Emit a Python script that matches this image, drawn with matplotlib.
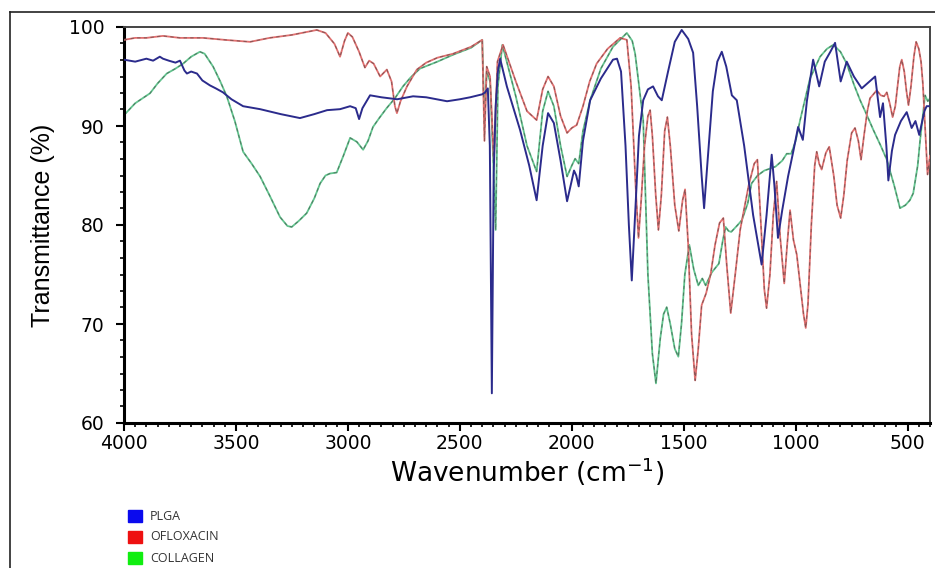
import matplotlib
matplotlib.use("Agg")
import numpy as np
import matplotlib.pyplot as plt
from matplotlib.ticker import MultipleLocator, AutoMinorLocator
from matplotlib.lines import Line2D
from matplotlib.patches import Rectangle

# --- data (wavenumber cm-1, transmittance %) ---
plga_wn = [4000, 3950, 3900, 3870, 3840, 3826, 3800, 3770, 3750, 3730, 3719, 3700, 3674, 3650,
           3616, 3590, 3558, 3520, 3468, 3392, 3300, 3214, 3150, 3093, 3035, 2990, 2965, 2950,
           2935, 2901, 2850, 2780, 2709, 2650, 2557, 2500, 2454, 2400, 2387, 2375, 2366, 2357,
           2349, 2340, 2330, 2320, 2290, 2231, 2190, 2157, 2130, 2106, 2080, 2050, 2021, 2000,
           1990, 1980, 1969, 1950, 1918, 1870, 1816, 1798, 1780, 1760, 1745, 1732, 1715, 1700,
           1681, 1660, 1637, 1615, 1598, 1570, 1540, 1509, 1480, 1458, 1440, 1420, 1409, 1395,
           1370, 1350, 1330, 1310, 1285, 1263, 1230, 1190, 1152, 1130, 1107, 1095, 1079, 1060,
           1034, 1010, 989, 968, 950, 922, 895, 870, 845, 824, 799, 772, 740, 705, 670, 645,
           623, 610, 595, 586, 570, 556, 530, 504, 482, 465, 448, 425, 415, 400]
plga_t = [96.7, 96.5, 96.8, 96.6, 97.0, 96.8, 96.6, 96.4, 96.6, 95.6, 95.3, 95.5, 95.3, 94.6,
          94.1, 93.8, 93.4, 92.7, 92.0, 91.7, 91.2, 90.8, 91.2, 91.6, 91.7, 92.0, 91.8, 90.7,
          91.8, 93.1, 92.9, 92.7, 93.0, 92.9, 92.5, 92.7, 92.9, 93.2, 93.4, 93.8, 88.0, 63.0,
          85.0, 92.0, 95.5, 96.8, 94.0, 89.6, 86.0, 82.5, 88.0, 91.3, 90.3, 86.5, 82.4, 84.5,
          85.5, 85.0, 83.9, 88.5, 92.6, 94.8, 96.7, 96.8, 95.5, 88.0, 80.0, 74.4, 82.0, 89.0,
          92.6, 93.7, 94.0, 93.0, 92.6, 95.5, 98.5, 99.7, 98.8, 97.4, 92.0, 85.0, 81.7, 86.0,
          93.5, 96.5, 97.5, 96.0, 93.1, 92.6, 88.0, 81.0, 76.0, 81.0, 87.1, 84.0, 78.7, 81.5,
          84.9, 87.5, 89.9, 88.6, 92.5, 96.7, 94.0, 96.5, 97.5, 98.4, 94.5, 96.5, 95.0, 93.8,
          94.5, 95.0, 90.9, 92.3, 88.0, 84.5, 87.5, 89.1, 90.5, 91.4, 89.8, 90.5, 89.1, 91.5,
          92.0, 92.0]

oflox_wn = [4000, 3950, 3900, 3826, 3750, 3647, 3550, 3437, 3350, 3250, 3139, 3100, 3060, 3035,
            3015, 3000, 2980, 2950, 2924, 2905, 2885, 2856, 2826, 2805, 2790, 2781, 2765, 2736,
            2692, 2650, 2600, 2530, 2450, 2400, 2390, 2380, 2365, 2348, 2332, 2307, 2250, 2200,
            2157, 2130, 2106, 2080, 2050, 2021, 2000, 1978, 1950, 1920, 1889, 1840, 1784, 1754,
            1735, 1715, 1702, 1690, 1675, 1660, 1650, 1640, 1625, 1613, 1600, 1585, 1573, 1560,
            1540, 1522, 1505, 1494, 1480, 1465, 1449, 1435, 1420, 1400, 1380, 1360, 1340, 1323,
            1308, 1290, 1270, 1248, 1210, 1185, 1171, 1155, 1140, 1130, 1115, 1100, 1085, 1070,
            1051, 1038, 1025, 1010, 995, 980, 965, 955, 945, 930, 915, 906, 895, 884, 865, 850,
            830, 815, 799, 785, 770, 750, 735, 720, 708, 695, 680, 668, 638, 620, 605, 593,
            580, 567, 555, 545, 535, 526, 515, 505, 496, 485, 472, 462, 450, 440, 432, 422,
            411, 400]
oflox_t = [98.7, 98.9, 98.9, 99.1, 98.9, 98.9, 98.7, 98.5, 98.9, 99.2, 99.7, 99.4, 98.3, 97.0,
           98.6, 99.4, 99.0, 97.5, 95.9, 96.6, 96.3, 95.0, 95.7, 94.5, 92.0, 91.3, 92.5, 94.0,
           95.7, 96.4, 96.9, 97.3, 98.0, 98.7, 88.5, 96.0, 95.0, 86.5, 96.5, 98.2, 94.5, 91.5,
           90.6, 93.7, 95.0, 94.0, 91.0, 89.3, 89.8, 90.1, 92.0, 94.5, 96.3, 97.8, 98.9, 98.7,
           94.0, 84.0, 78.7, 82.5, 88.0, 91.0, 91.6, 89.0, 83.0, 79.5, 83.0, 89.5, 90.9, 88.0,
           82.0, 79.4, 82.5, 83.6, 78.0, 69.0, 64.3, 67.5, 71.9, 73.1, 75.0, 78.0, 80.2, 80.7,
           76.0, 71.1, 75.0, 79.5, 84.0, 86.2, 86.6, 80.0, 73.5, 71.6, 75.0, 81.0, 84.4, 79.0,
           74.1, 78.0, 81.5, 78.5, 77.0, 74.0, 71.0, 69.6, 72.0, 80.0, 86.0, 87.4, 86.2, 85.6,
           87.3, 87.9, 85.0, 82.0, 80.7, 83.0, 86.5, 89.3, 89.8, 88.5, 86.6, 89.0, 91.5, 92.8,
           93.6, 93.1, 93.0, 93.4, 92.3, 90.9, 92.0, 94.0, 96.0, 96.7, 95.5, 93.5, 92.1, 94.0,
           97.0, 98.5, 97.8, 96.5, 94.3, 90.0, 85.1, 87.0]

coll_wn = [4000, 3950, 3884, 3850, 3809, 3770, 3736, 3700, 3661, 3640, 3602, 3570, 3541, 3505,
           3468, 3430, 3392, 3350, 3303, 3270, 3251, 3220, 3184, 3150, 3124, 3100, 3080, 3050,
           3020, 2990, 2960, 2932, 2910, 2888, 2860, 2827, 2790, 2754, 2720, 2678, 2600, 2530,
           2450, 2400, 2390, 2380, 2365, 2350, 2340, 2330, 2310, 2250, 2200, 2157, 2130, 2106,
           2080, 2050, 2021, 2000, 1985, 1969, 1950, 1918, 1870, 1816, 1754, 1730, 1717, 1710,
           1681, 1660, 1640, 1624, 1605, 1590, 1576, 1560, 1540, 1524, 1510, 1495, 1475, 1455,
           1435, 1417, 1402, 1375, 1343, 1325, 1313, 1300, 1288, 1259, 1240, 1214, 1197, 1170,
           1140, 1114, 1090, 1060, 1040, 1020, 1000, 980, 955, 936, 891, 860, 832, 800, 772,
           740, 712, 680, 653, 620, 593, 560, 534, 510, 490, 475, 455, 444, 430, 422, 410, 400]
coll_t = [91.1, 92.3, 93.3, 94.3, 95.3, 95.8, 96.3, 97.0, 97.5, 97.3, 96.0, 94.5, 93.0, 90.5,
          87.4, 86.2, 84.9, 83.0, 80.8, 79.9, 79.8, 80.4, 81.2, 82.7, 84.2, 85.0, 85.2, 85.3,
          87.0, 88.8, 88.4, 87.6, 88.5, 89.9, 90.8, 91.8, 92.8, 94.0, 94.9, 95.8, 96.5, 97.2,
          97.9, 98.7, 90.5, 95.5, 94.5, 86.0, 79.5, 94.0, 98.2, 93.0, 88.0, 85.4, 91.5, 93.5,
          92.0, 88.0, 84.9, 86.0, 86.7, 86.2, 89.5, 92.6, 95.8, 98.0, 99.4, 98.6, 97.3, 96.0,
          90.6, 75.0, 67.0, 64.0, 68.5, 71.0, 71.7, 70.0, 67.5, 66.7, 70.0, 75.0, 78.0, 75.5,
          73.9, 74.6, 73.9, 75.2, 76.1, 78.5, 79.8, 79.4, 79.3, 80.0, 80.5, 82.2, 84.2, 85.0,
          85.5, 85.7, 85.9, 86.5, 87.2, 87.2, 88.5, 90.6, 93.0, 94.8, 97.0, 97.8, 98.2, 97.5,
          96.3, 94.2, 92.6, 91.0, 89.6, 88.0, 86.6, 84.0, 81.7, 82.0, 82.5, 83.2, 86.0, 88.6,
          91.5, 93.1, 92.5, 92.8]

legend_labels = ["PLGA", "OFLOXACIN", "COLLAGEN"]
legend_colors = ["#0a0aee", "#ee1010", "#10ee10"]

fig = plt.figure(figsize=(9.35, 5.68), dpi=100)
ax = fig.add_axes([124 / 935, 1 - 423 / 568, 806 / 935, 396 / 568])

# green and red carry a dark dashed overlay like the original export
ax.plot(coll_wn, coll_t, color="#62c48e", lw=1.3, zorder=2)
ax.plot(coll_wn, coll_t, color="#3a3a3a", lw=0.8, ls=(0, (3, 3)), alpha=0.5, zorder=2.1)
ax.plot(oflox_wn, oflox_t, color="#e07070", lw=1.3, zorder=3)
ax.plot(oflox_wn, oflox_t, color="#3a3a3a", lw=0.8, ls=(0, (3, 3)), alpha=0.5, zorder=3.1)
ax.plot(plga_wn, plga_t, color="#2b2b8c", lw=1.4, zorder=4)

ax.set_xlim(4000, 400)
ax.set_ylim(60, 100)
ax.xaxis.set_major_locator(MultipleLocator(500))
ax.xaxis.set_minor_locator(AutoMinorLocator(10))
ax.yaxis.set_major_locator(MultipleLocator(10))
ax.yaxis.set_minor_locator(AutoMinorLocator(6))
ax.tick_params(which="major", direction="out", length=6, width=1.5, labelsize=13.5)
ax.tick_params(which="minor", direction="out", length=3, width=1.2)
ax.tick_params(axis="x", which="major", pad=2)
ax.tick_params(axis="y", which="major", pad=8)
for side in ["left", "bottom"]:
    ax.spines[side].set_linewidth(2.2)
for side in ["top", "right"]:
    ax.spines[side].set_linewidth(1.4)
    ax.spines[side].set_color("#444444")

ax.set_xlabel("Wavenumber (cm$^{\\mathregular{-1}}$)", fontsize=19, labelpad=2)
ax.set_ylabel("Transmittance (%)", fontsize=18, labelpad=10,
              family=["Liberation Sans", "DejaVu Sans"])

# outer frame around the whole figure
fig.add_artist(Line2D([10 / 935, 1], [1 - 12 / 568, 1 - 12 / 568], color="#222222", lw=1.2))
fig.add_artist(Line2D([10 / 935, 10 / 935], [1 - 12 / 568, 0], color="#222222", lw=1.2))

# legend block below the axes
for i, (lab, col) in enumerate(zip(legend_labels, legend_colors)):
    yc = 1 - (516 + 21 * i) / 568
    fig.add_artist(Rectangle((128 / 935, yc - 6 / 568), 14 / 935, 12 / 568,
                             transform=fig.transFigure, color=col))
    fig.text(150 / 935, yc, lab, fontsize=9, va="center", ha="left",
             family=["Open Sans", "DejaVu Sans"], color="#333333")

fig.savefig("out.png", dpi=100)
